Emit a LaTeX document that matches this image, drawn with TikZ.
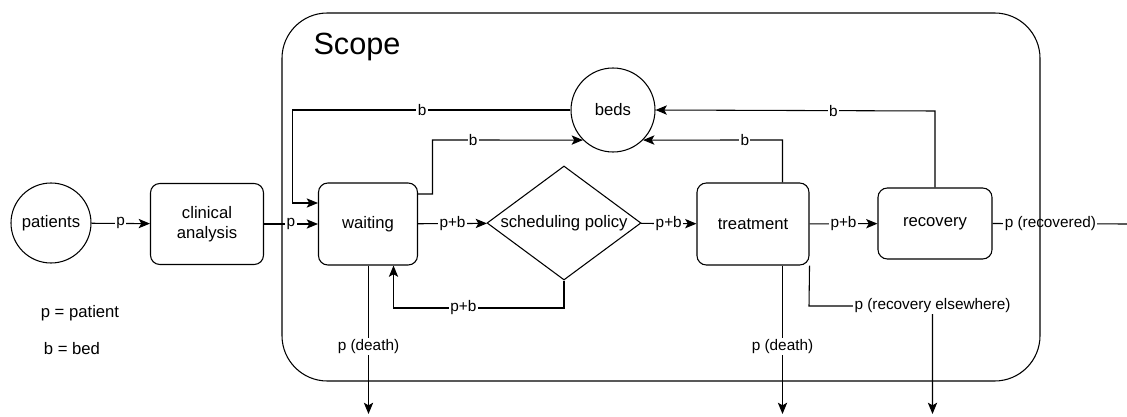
\documentclass[tikz,border=0pt]{standalone}
\usepackage{fontspec}
\setmainfont{Liberation Sans}
\usetikzlibrary{shapes.geometric, arrows.meta}

\begin{document}
\begin{tikzpicture}[x=0.75pt, y=-0.75pt, line width=0.8pt, >={Stealth[length=8.5pt, width=7pt, inset=2pt]},
	box/.style={draw, rounded corners=7pt, align=center, inner sep=0pt, font=\fontsize{12.5}{15}\selectfont},
	store/.style={draw, circle, inner sep=0pt, font=\fontsize{12.5}{15}\selectfont},
	lbl/.style={fill=white, inner sep=1pt, font=\fontsize{11.5}{13}\selectfont}]
	\useasboundingbox (0,0) rectangle (1127,417);

	\node[store, minimum size=60pt](patients) at (51,223) {patients};
	\node[box, minimum width=84.75pt, minimum height=60.75pt](clinical) at (207,224) {clinical\\analysis};
	\node[box, minimum width=74.25pt, minimum height=61.5pt](waiting) at (368,224) {waiting};
	\node[draw, diamond, aspect=1.35, inner sep=0pt, minimum width=115.5pt, minimum height=85.5pt,
		font=\fontsize{12.5}{15}\selectfont](policy) at (564,223) {scheduling policy};
	\node[box, minimum width=84pt, minimum height=61.5pt](treatment) at (753,224) {treatment};
	\node[box, minimum width=85.5pt, minimum height=53.25pt](recovery) at (935,223.5) {recovery};
	\node[store, minimum size=63pt](beds) at (613,110) {beds};

	\coordinate(death1) at (368.5,414);
	\coordinate(death2) at (782.5,414);
	\coordinate(elsewhere) at (932.5,414);
	\coordinate(recovered) at (1127,224);

	\node[font=\fontsize{12.5}{15}\selectfont](legp) at (80,313) {p = patient};
	\node[font=\fontsize{12.5}{15}\selectfont](legb) at (72,349) {b = bed};

	\draw[->](patients) -- node[lbl]{p} (clinical);
	\draw[->](clinical) -- node[lbl]{p} (waiting);
	\draw[->](beds.west) -- node[lbl, pos=0.534]{b} (292.5,110) -- (292.5,203) -- (waiting.west |- 0,203);
	\draw[->](waiting.east |- 0,194) -- (432.5,194) -- (432.5,140) -- node[lbl, pos=0.27]{b} (beds.south west);
	\draw[->](waiting) -- node[lbl]{p+b} (policy);
	\draw[->](policy.south) -- (564,308) -- node[lbl, pos=0.59]{p+b} (393.5,308) -- (waiting.south -| 393.5,0);
	\draw[->](waiting.south -| death1) -- node[lbl, pos=0.544]{p (death)} (death1);
	\draw[->](policy) -- node[lbl]{p+b} (treatment);
	\draw[->](treatment.north -| 782.5,0) -- (782.5,140) -- node[lbl, pos=0.27]{b} (beds.south east);
	\draw[->](treatment) -- node[lbl]{p+b} (recovery);
	\draw[->](recovery.north) -- (935,111) -- node[lbl, pos=0.364]{b} (beds.east);
	\draw(recovery.east) -- node[lbl, pos=0.43]{p (recovered)} (recovered);
	\draw[->](treatment.south -| death2) -- node[lbl, pos=0.544]{p (death)} (death2);
	\draw[->](treatment.south east) -- (809,306) -- node[lbl, pos=1]{p (recovery elsewhere)} (932.5,306) -- (elsewhere);

	\draw[rounded corners=34pt](282,13) rectangle (1040,381);
	\node[font=\fontsize{23}{27}\selectfont](scope) at (357,47) {Scope};
\end{tikzpicture}
\end{document}
